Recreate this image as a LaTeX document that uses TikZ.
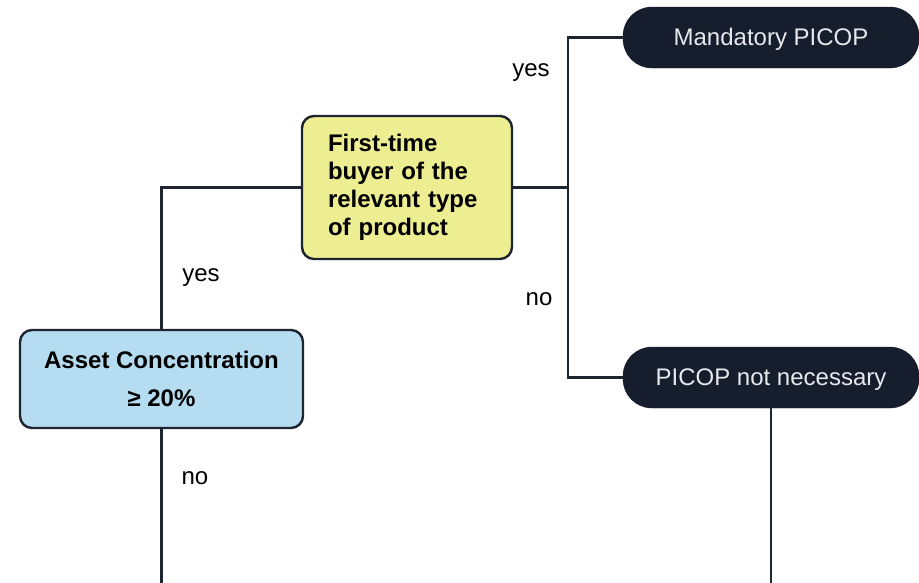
\documentclass[tikz,border=0pt]{standalone}
\usepackage{fontspec}
\setmainfont{Liberation Sans}
\usetikzlibrary{positioning}
\definecolor{navy}{HTML}{161E2D}
\definecolor{linec}{HTML}{1F2530}
\definecolor{yelfill}{HTML}{EDED92}
\definecolor{bluefill}{HTML}{B5DCF0}
\definecolor{pilltext}{HTML}{E6E8EC}
\tikzset{
  conn/.style={draw=linec, line width=2.3pt},
  lbl/.style={font=\fontsize{24pt}{28pt}\selectfont, inner sep=0pt},
  decision/.style={draw=linec, line width=2.4pt, rounded corners=12pt,
     font=\fontsize{24pt}{28pt}\selectfont\bfseries},
  pill/.style={fill=navy, draw=navy, rounded corners=29pt, minimum height=61pt,
     minimum width=296pt, inner sep=0pt, text=pilltext,
     font=\fontsize{24pt}{28pt}\selectfont},
}
\begin{document}
\begin{tikzpicture}[x=1pt,y=1pt]
\useasboundingbox (0,0) rectangle (919,-582);
\fill[white] (0,0) rectangle (919,-582);

\node[decision, fill=yelfill, minimum width=210pt, minimum height=143pt,
      text width=158pt, inner xsep=26pt, inner ysep=0pt, align=left]
  (first) at (407,-187.5) {First-time\\buyer of the\\relevant type\\of product};

\node[decision, fill=bluefill, minimum width=283pt, minimum height=98pt,
      inner sep=0pt, align=center]
  (asset) at (161.5,-379) {\raisebox{4pt}{Asset Concentration}\\[6pt]≥ 20\%};

\node[pill] (mand) at (771,-37.5) {\raisebox{-7.5pt}[0pt][0pt]{Mandatory PICOP}};
\node[pill] (notn) at (771,-377.5) {\raisebox{-7.5pt}[0pt][0pt]{PICOP not necessary}};

\coordinate (j) at (568,-187.5);
\coordinate (b1) at (asset.south |- 0,-584);
\coordinate (b2) at (notn.south |- 0,-584);

\draw[conn] (asset.north) |- (first.west);
\draw[conn] (first.east) -- (j);
\draw[conn] (j) |- (mand.west);
\draw[conn] (j) |- (notn.west);
\draw[conn] (asset.south) -- (b1);
\draw[conn] (notn.south) -- (b2);

\node[lbl] (yes1) at (201,-278) {yes};
\node[lbl] (no1) at (195,-478) {no};
\node[lbl] (yes2) at (531,-73) {yes};
\node[lbl] (no2) at (539,-299) {no};
\end{tikzpicture}
\end{document}
